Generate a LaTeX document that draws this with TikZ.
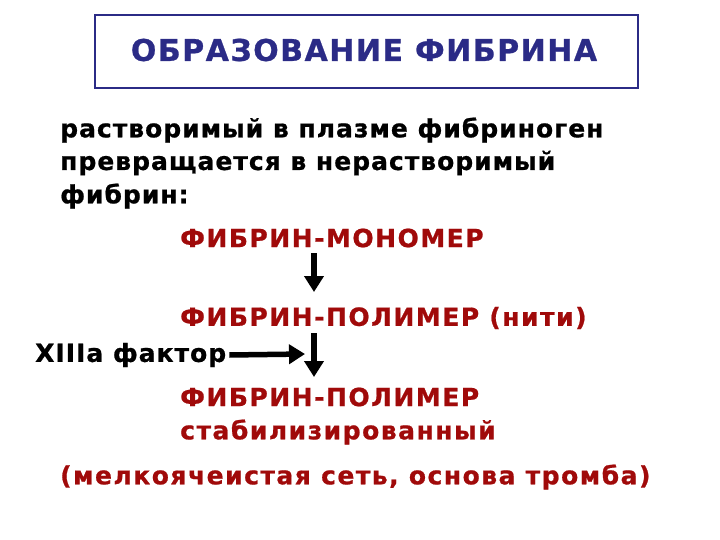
\documentclass[tikz,border=0pt]{standalone}
\usepackage{fontspec}
\setmainfont{DejaVu Sans}
\newfontfamily\blackfont[LetterSpace=4,FakeBold=0.8]{DejaVu Sans Bold}
\newfontfamily\redfont[LetterSpace=6,FakeBold=0.8]{DejaVu Sans Bold}
\newfontfamily\titlefont[LetterSpace=5,FakeBold=0.8]{DejaVu Sans Bold}
\usetikzlibrary{arrows.meta}
\definecolor{navy}{HTML}{2B2B86}
\definecolor{darkred}{HTML}{A00A0A}
\begin{document}
\begin{tikzpicture}[x=1pt,y=-1pt,
  txt/.style={anchor=west,inner sep=0pt,font=\blackfont\fontsize{25}{30}\selectfont},
  redtxt/.style={anchor=west,inner sep=0pt,text=darkred,font=\redfont\fontsize{25}{30}\selectfont},
  thick arrow/.style={line width=5.5pt,-{Triangle[length=16pt,width=19pt]}}]
\useasboundingbox (0,0) rectangle (720,540);
\node[draw=navy,line width=2pt,minimum width=543pt,minimum height=73pt,inner sep=0pt] (title) at (366.5,51.5) {};
\node[anchor=center,inner sep=0pt,text=navy,font=\titlefont\fontsize{30}{36}\selectfont] (ttext) at (364,50) {ОБРАЗОВАНИЕ ФИБРИНА};
\node[txt] (l1) at (60,130) {растворимый в плазме фибриноген};
\node[txt] (l2) at (60,163) {превращается в нерастворимый};
\node[txt] (l3) at (60,196) {фибрин:};
\node[redtxt] (mono) at (180,238) {ФИБРИН-МОНОМЕР};
\node[redtxt] (poly) at (180,318) {ФИБРИН-ПОЛИМЕР (нити)};
\node[txt] (f13) at (35,355) {XIIIa фактор};
\node[redtxt] (poly2) at (180,397) {ФИБРИН-ПОЛИМЕР};
\node[redtxt] (stab) at (180,432) {стабилизированный};
\node[redtxt] (net) at (60,477) {(мелкоячеистая сеть, основа тромба)};
\coordinate (a1s) at (314,253);
\coordinate (a1e) at (314,292);
\coordinate (a2s) at (314,333);
\coordinate (a2e) at (314,377);
\coordinate (hx) at (305,354);
\draw[thick arrow] (a1s) -- (a1e);
\draw[thick arrow] (a2s) -- (a2e);
\draw[thick arrow] (f13.east) ++(3,0) coordinate (hs) (hs) -- (hx);
\end{tikzpicture}
\end{document}
